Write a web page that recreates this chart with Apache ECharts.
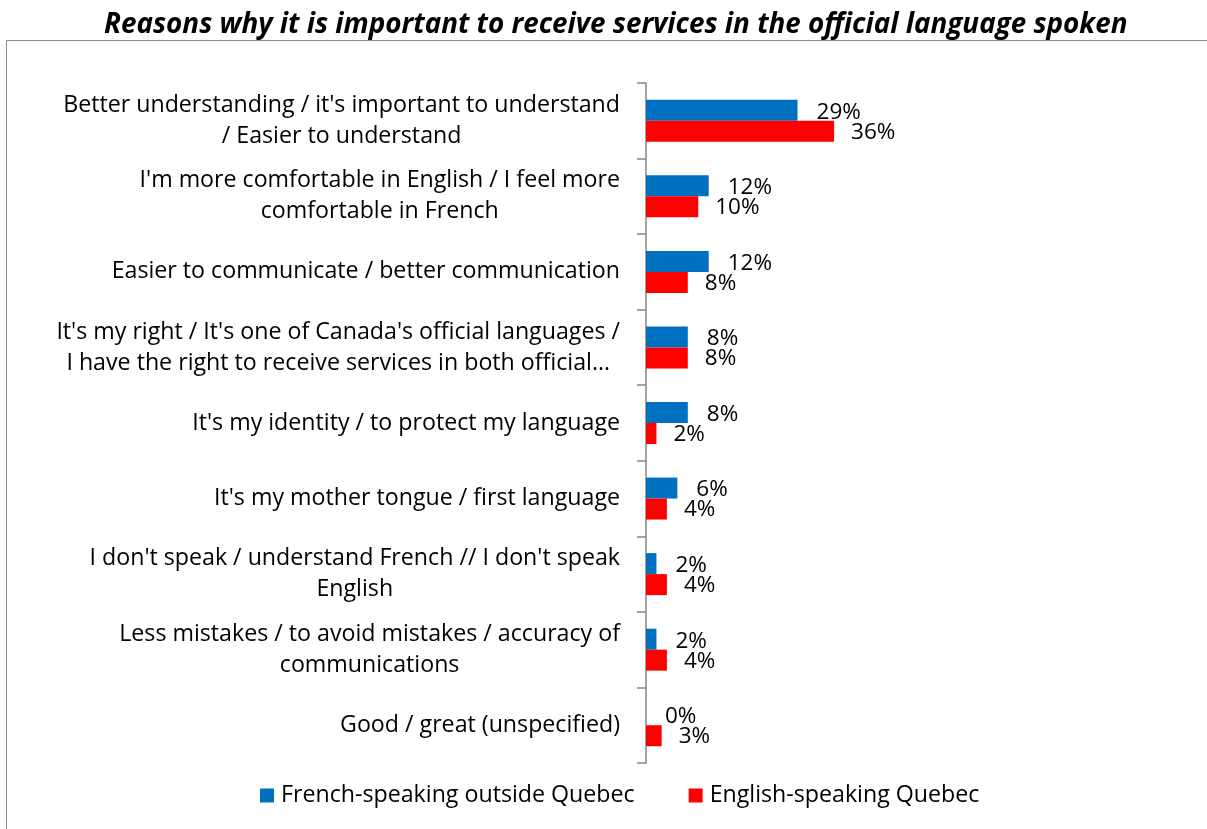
<!DOCTYPE html>
<html><head><meta charset="utf-8">
<script src="https://cdn.jsdelivr.net/npm/echarts@6/dist/echarts.min.js"></script>
<style>html,body{margin:0;padding:0;background:#fff;}#c{width:1207px;height:829px;}</style>
</head><body><div id="c"></div>
<script>
const titleText = "Reasons why it is important to receive services in the official language spoken";
const categories = [
  "Better understanding / it's important to understand\n/ Easier to understand",
  "I'm more comfortable in English / I feel more\ncomfortable in French",
  "Easier to communicate / better communication",
  "It's my right / It's one of Canada's official languages /\nI have the right to receive services in both official…",
  "It's my identity / to protect my language",
  "It's my mother tongue / first language",
  "I don't speak / understand French // I don't speak\nEnglish",
  "Less mistakes / to avoid mistakes / accuracy of\ncommunications",
  "Good / great (unspecified)"
];
const seriesNames = ["French-speaking outside Quebec", "English-speaking Quebec"];
const frenchOutsideQuebec = [29, 12, 12, 8, 8, 6, 2, 2, 0];
const englishQuebec = [36, 10, 8, 8, 2, 4, 4, 4, 3];

const FONT = "Open Sans";
const FS = 23.2;
const chart = echarts.init(document.getElementById('c'));
chart.setOption({
  animation: false,
  backgroundColor: '#fff',
  title: {
    text: titleText, left: 99, top: 6,
    textStyle: {fontFamily: FONT, fontSize: 27.8, fontWeight: 'bold', fontStyle: 'italic', color: '#000'}
  },
  graphic: [{
    type: 'polyline', silent: true,
    shape: {points: [[6.5, 900], [6.5, 40.5], [1300, 40.5]]},
    style: {stroke: '#8c8c8c', lineWidth: 1, fill: null}
  }],
  legend: {
    top: 779, left: 255, itemWidth: 14, itemHeight: 14, itemGap: 54,
    icon: 'rect',
    textStyle: {fontFamily: FONT, fontSize: FS, color: '#000', padding: [0, 0, 0, 2]},
    data: seriesNames
  },
  grid: {left: 646, top: 83, width: 209, height: 680, containLabel: false},
  xAxis: {type: 'value', min: 0, max: 40, show: false},
  yAxis: {
    type: 'category', inverse: true, data: categories,
    axisLine: {show: true, lineStyle: {color: '#868686', width: 1.5}},
    axisTick: {show: true, length: 9, lineStyle: {color: '#868686', width: 1.5}},
    axisLabel: {
      margin: 26, color: '#000', fontFamily: FONT, fontSize: FS, lineHeight: 31,
      formatter: v => v.split('\n').map(s => '{c|' + s + '}').join('\n'),
      rich: {c: {align: 'center', fontFamily: FONT, fontSize: FS, lineHeight: 31, color: '#000'}}
    }
  },
  series: [
    {name: seriesNames[0], type: 'bar', data: frenchOutsideQuebec, barWidth: 21, barGap: '0%',
     itemStyle: {color: '#0070C0'},
     label: {show: true, position: 'right', distance: 19, formatter: '{c}%', fontFamily: FONT, fontSize: 22.5, color: '#000', offset: [0, 2]}},
    {name: seriesNames[1], type: 'bar', data: englishQuebec, barWidth: 21, barGap: '0%',
     itemStyle: {color: '#FF0000'},
     label: {show: true, position: 'right', distance: 17, formatter: '{c}%', fontFamily: FONT, fontSize: 22.5, color: '#000', offset: [0, 1]}}
  ]
});
</script></body></html>
